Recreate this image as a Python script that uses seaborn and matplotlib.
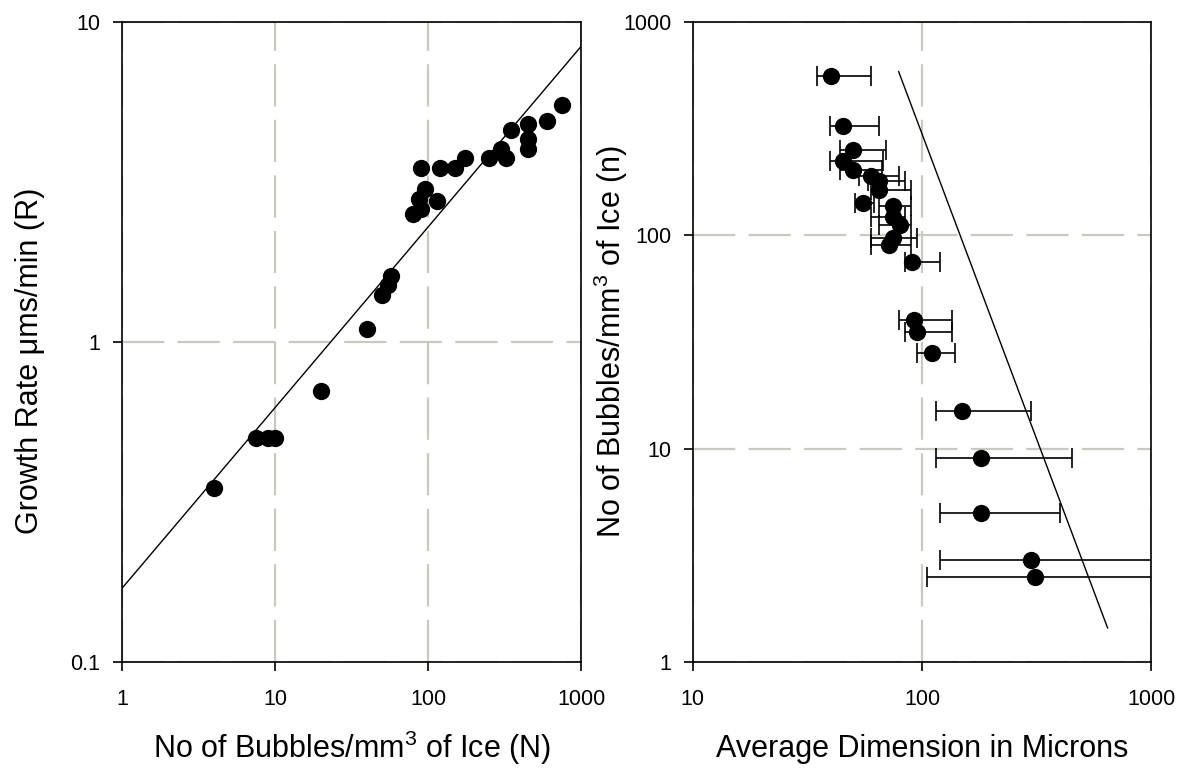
import numpy as np
import pandas as pd
import matplotlib
matplotlib.use("Agg")
import matplotlib.pyplot as plt
import seaborn as sns

# ---- Left panel: growth rate against bubble number density ----
bubbles_N = [4, 7.5, 9, 10, 20, 40, 50, 55, 57, 80, 87, 90, 95, 90, 115,
             120, 150, 175, 250, 300, 325, 350, 450, 450, 450, 600, 750]
growth_R = [0.35, 0.5, 0.5, 0.5, 0.7, 1.1, 1.4, 1.5, 1.6, 2.5, 2.8, 2.6, 3.0,
            3.5, 2.75, 3.5, 3.5, 3.75, 3.75, 4.0, 3.75, 4.6, 4.8, 4.3, 4.0,
            4.9, 5.5]

# power-law fit R = a * N**b
fit_R_coef = 0.17
fit_R_exp = 0.564
fit_R_span = (1, 1000)

# ---- Right panel: bubble density against average bubble dimension ----
dim_avg = [40, 45, 50, 45, 50, 60, 65, 65, 55, 74.5, 74.5, 80, 74.5, 72,
           90, 92, 95, 110, 150, 180, 180, 300, 310]
dim_n = [555, 325, 250, 222, 202, 190, 180, 162, 142, 137, 122, 111, 97, 90,
         75, 40, 35, 28, 15, 9, 5, 3, 2.5]
dim_lo = [34.8, 39.8, 44, 39.8, 44, 53, 58, 59.7, 51, 65, 59.7, 65, 59.7,
          59.7, 84.6, 79.6, 84.6, 94.8, 114.7, 114.7, 119.8, 119.8, 104.7]
dim_hi = [59.7, 65, 69.5, 67.8, 67, 79.6, 84.5, 89.3, 62, 89.3, 84.5, 89.3,
          94.8, 89.3, 119.8, 134.6, 134.6, 139.7, 300, 451, 398, 1500, 1500]

# power-law fit n = a * D**b
fit_n_coef = 10 ** 8.194
fit_n_exp = -2.86
fit_n_span = (79, 645)

sns.set_theme(style="white")
plt.rcParams.update({
    "font.family": ["Liberation Sans", "DejaVu Sans"],
    "mathtext.fontset": "custom",
    "mathtext.rm": "Liberation Sans",
    "mathtext.it": "Liberation Sans",
    "text.color": "black",
    "axes.labelcolor": "black",
    "axes.edgecolor": "black",
    "axes.linewidth": 1.2,
    "xtick.color": "black",
    "ytick.color": "black",
    "xtick.labelcolor": "black",
    "ytick.labelcolor": "black",
    "xtick.bottom": True,
    "ytick.left": True,
    "xtick.top": False,
    "ytick.right": False,
    "xtick.direction": "out",
    "ytick.direction": "out",
    "xtick.major.size": 6.5,
    "ytick.major.size": 6.5,
    "xtick.major.width": 1.2,
    "ytick.major.width": 1.2,
    "xtick.major.pad": 13,
    "ytick.major.pad": 9,
    "xtick.labelsize": 15.5,
    "ytick.labelsize": 15.5,
    "xtick.minor.visible": False,
    "ytick.minor.visible": False,
})

fig = plt.figure(figsize=(11.85, 7.74), dpi=100)
fig.patch.set_facecolor("white")
ax1 = fig.add_axes([0.1030, 0.1447, 0.3873, 0.8273])
ax2 = fig.add_axes([0.5846, 0.1447, 0.3870, 0.8273])

grid_kw = dict(color="#c9c9bd", linewidth=1.6, linestyle=(0, (19, 6)))
marker_s = 155

# Left panel
fitN = np.geomspace(*fit_R_span, 50)
sns.lineplot(x=fitN, y=fit_R_coef * fitN ** fit_R_exp, ax=ax1, color="black",
             linewidth=1.0, zorder=3)
sns.scatterplot(x=bubbles_N, y=growth_R, ax=ax1, color="black", s=marker_s,
                linewidth=0, zorder=4)

# Right panel
dims = np.asarray(dim_avg)
xerr = np.vstack([dims - np.asarray(dim_lo), np.asarray(dim_hi) - dims])
ax2.errorbar(dim_avg, dim_n, xerr=xerr, fmt="none", ecolor="black",
             elinewidth=1.2, capsize=7, capthick=1.2, zorder=3)
fitD = np.geomspace(*fit_n_span, 50)
sns.lineplot(x=fitD, y=fit_n_coef * fitD ** fit_n_exp, ax=ax2, color="black",
             linewidth=1.0, zorder=3)
sns.scatterplot(x=dim_avg, y=dim_n, ax=ax2, color="black", s=marker_s,
                linewidth=0, zorder=4)


def style_axes(ax, xticks, yticks, xlim, ylim):
    ax.set_xscale("log")
    ax.set_yscale("log")
    ax.set_xlim(*xlim)
    ax.set_ylim(*ylim)
    ax.set_xticks(xticks, [f"{t:g}" for t in xticks])
    ax.set_yticks(yticks, [f"{t:g}" for t in yticks])
    ax.minorticks_off()
    ax.grid(True, which="major", **grid_kw)
    for sp in ax.spines.values():
        sp.set_color("black")
        sp.set_linewidth(1.2)
        sp.set_visible(True)
    ax.tick_params(axis="both", which="major", direction="out", length=6.5,
                   width=1.2, color="black", labelsize=15.5,
                   labelcolor="black", bottom=True, left=True, top=False,
                   right=False)
    ax.set_facecolor("white")


style_axes(ax1, [1, 10, 100, 1000], [0.1, 1, 10], (1, 1000), (0.1, 10))
style_axes(ax2, [10, 100, 1000], [1, 10, 100, 1000], (10, 1000), (1, 1000))

ax1.set_xlabel("No of Bubbles/mm$^3$ of Ice (N)", fontsize=22, labelpad=13.5)
ax1.set_ylabel("Growth Rate \u03bcms/min (R)", fontsize=22, labelpad=18.5)
ax1.yaxis.label.set_y(0.47)
ax2.set_xlabel("Average Dimension in Microns", fontsize=22, labelpad=17)
ax2.set_ylabel("No of Bubbles/mm$^3$ of Ice (n)", fontsize=22, labelpad=-5)

fig.savefig("out.png", dpi=100, facecolor="white")
